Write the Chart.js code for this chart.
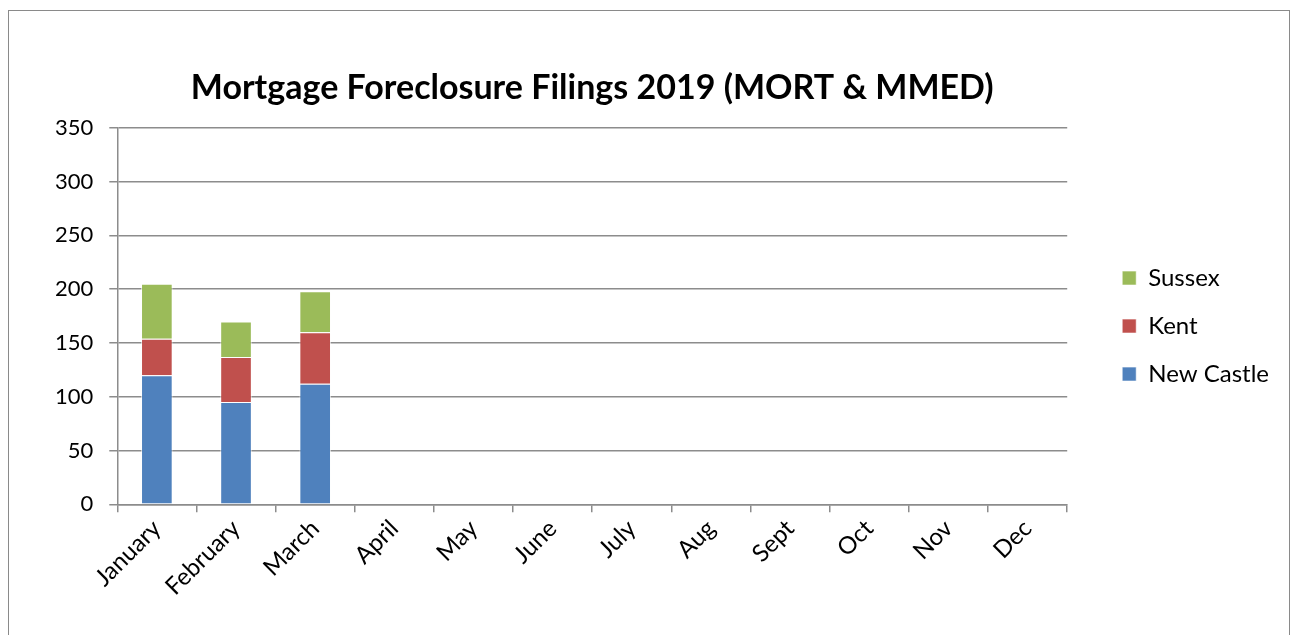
<!DOCTYPE html>
<html>
<head>
<meta charset="utf-8">
<script src="https://cdn.jsdelivr.net/npm/chart.js@4.4.0/dist/chart.umd.min.js"></script>
<style>
  html, body { margin: 0; padding: 0; background: #fff; }
  #frame {
    position: absolute; left: 8px; top: 10px; width: 1282px; height: 640px;
    border: 1px solid #8a8a8a; box-sizing: border-box;
  }
  #wrap { position: absolute; left: 0; top: 0; width: 1294px; height: 635px; }
</style>
</head>
<body>
<div id="frame"></div>
<div id="wrap"><canvas id="foreclosureChart" width="1294" height="635"></canvas></div>
<script>
const months = ['January', 'February', 'March', 'April', 'May', 'June', 'July', 'Aug', 'Sept', 'Oct', 'Nov', 'Dec'];

// filings per county, only Q1 reported so far
const newCastle = [120, 95, 112, null, null, null, null, null, null, null, null, null];
const kent = [34, 42, 48, null, null, null, null, null, null, null, null, null];
const sussex = [51, 33, 38, null, null, null, null, null, null, null, null, null];

const gridColor = '#8c8c8c';
const fontFamily = 'Lato, "Open Sans", sans-serif';

const makeDataset = (label, data, color) => ({
    label: label,
    data: data,
    backgroundColor: color,
    borderColor: 'rgba(255, 255, 255, 0.6)',
    borderWidth: 1,
    barPercentage: 0.4,
    categoryPercentage: 1.0
});

const ctx = document.getElementById('foreclosureChart').getContext('2d');

new Chart(ctx, {
    type: 'bar',
    data: {
        labels: months,
        datasets: [
            makeDataset('New Castle', newCastle, '#4f81bd'),
            makeDataset('Kent', kent, '#c0504d'),
            makeDataset('Sussex', sussex, '#9bbb59')
        ]
    },
    options: {
        responsive: false,
        animation: false,
        layout: {
            padding: { top: 68, left: 39, right: 15, bottom: 32 }
        },
        scales: {
            x: {
                stacked: true,
                offset: true,
                grid: {
                    offset: true,
                    drawOnChartArea: false,
                    drawTicks: true,
                    tickLength: 8,
                    color: gridColor,
                    lineWidth: 1.5
                },
                border: { color: gridColor, width: 1.5 },
                ticks: {
                    color: '#000',
                    font: { family: fontFamily, size: 24 },
                    maxRotation: 45,
                    minRotation: 45,
                    padding: 2
                }
            },
            y: {
                stacked: true,
                min: 0,
                max: 350,
                ticks: {
                    stepSize: 50,
                    color: '#000',
                    font: { family: fontFamily, size: 22 },
                    padding: 16
                },
                grid: {
                    color: gridColor,
                    lineWidth: 1.5,
                    tickLength: 8
                },
                border: { color: gridColor, width: 1.5 }
            },
            // empty spacer between plot and legend
            gap: {
                axis: 'y',
                type: 'linear',
                position: 'right',
                grid: { display: false },
                border: { display: false },
                ticks: { display: false },
                afterFit: (scale) => { scale.width = 31; }
            }
        },
        plugins: {
            title: {
                display: true,
                fullSize: false,
                text: 'Mortgage Foreclosure Filings 2019 (MORT & MMED)',
                color: '#000',
                font: { family: fontFamily, size: 34, weight: 'bold' },
                padding: { top: 0, bottom: 19 }
            },
            legend: {
                position: 'right',
                fullSize: false,
                reverse: true,
                title: {
                    display: true,
                    text: ' ',
                    font: { size: 16, lineHeight: 1.25 },
                    padding: 0
                },
                labels: {
                    color: '#000',
                    font: { family: fontFamily, size: 24 },
                    boxWidth: 14,
                    boxHeight: 14,
                    padding: 24
                }
            },
            tooltip: { enabled: false }
        }
    }
});
</script>
</body>
</html>
